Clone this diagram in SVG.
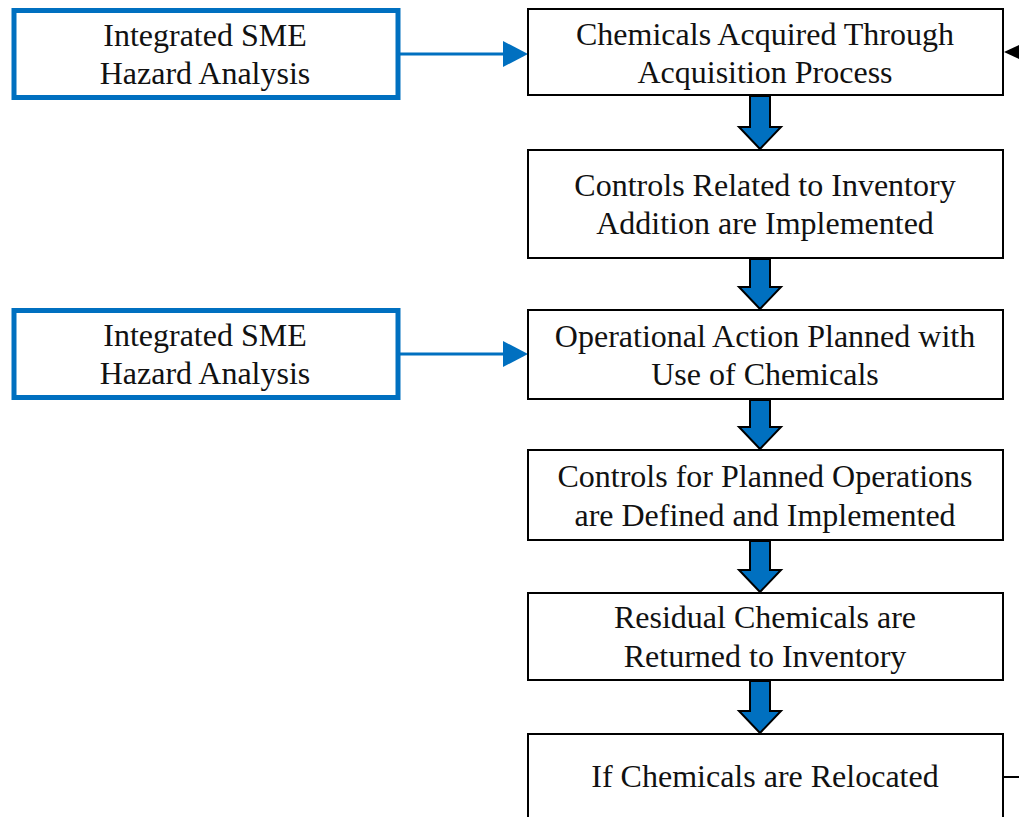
<svg xmlns="http://www.w3.org/2000/svg" width="1019" height="817" viewBox="0 0 1019 817">
<style>
.b{fill:#fff;stroke:#000;stroke-width:2}
.sme{fill:#fff;stroke:#0070C0;stroke-width:5}
.t{font-family:"Liberation Serif","Times New Roman",serif;font-size:32px;fill:#111;text-anchor:middle}
.blk{fill:#0070C0;stroke:#000;stroke-width:2;stroke-linejoin:miter}
.ln{stroke:#0070C0;stroke-width:3;fill:none}
</style>
<rect width="1019" height="817" fill="#fff"/>
<g id="connectors">
<line class="ln" x1="400" y1="54" x2="504" y2="54"/>
<path d="M503,41 L528,54 L503,67 z" fill="#0070C0"/>
<line class="ln" x1="400" y1="354" x2="504" y2="354"/>
<path d="M503,341 L528,354 L503,367 z" fill="#0070C0"/>
<path d="M1004,52 L1019,45 L1019,59 z" fill="#000"/>
<line x1="1010" y1="52" x2="1019" y2="52" stroke="#000" stroke-width="2"/>
<line x1="1003" y1="777" x2="1019" y2="777" stroke="#000" stroke-width="2"/>
<path class="blk" d="M750,96 L770,96 L770,127 L781,127 L760,149 L739,127 L750,127 z"/>
<path class="blk" d="M750,259 L770,259 L770,287 L781,287 L760,309 L739,287 L750,287 z"/>
<path class="blk" d="M750,400 L770,400 L770,427 L781,427 L760,449 L739,427 L750,427 z"/>
<path class="blk" d="M750,541 L770,541 L770,570 L781,570 L760,592 L739,570 L750,570 z"/>
<path class="blk" d="M750,681 L770,681 L770,711 L781,711 L760,733 L739,711 L750,711 z"/>
</g>
<g id="sme1">
<rect class="sme" x="14" y="10.5" width="384" height="87"/>
<text class="t" x="205" y="46">Integrated SME</text>
<text class="t" x="205" y="84">Hazard Analysis</text>
</g>
<g id="sme2">
<rect class="sme" x="14" y="310.5" width="384" height="87"/>
<text class="t" x="205" y="346">Integrated SME</text>
<text class="t" x="205" y="384">Hazard Analysis</text>
</g>
<g id="n1">
<rect class="b" x="528" y="9" width="475" height="86"/>
<text class="t" x="765" y="45">Chemicals Acquired Through</text>
<text class="t" x="765" y="83">Acquisition Process</text>
</g>
<g id="n2">
<rect class="b" x="528" y="150" width="475" height="108"/>
<text class="t" x="765" y="196">Controls Related to Inventory</text>
<text class="t" x="765" y="234">Addition are Implemented</text>
</g>
<g id="n3">
<rect class="b" x="528" y="310" width="475" height="89"/>
<text class="t" x="765" y="347">Operational Action Planned with</text>
<text class="t" x="765" y="385">Use of Chemicals</text>
</g>
<g id="n4">
<rect class="b" x="528" y="450" width="475" height="90"/>
<text class="t" x="765" y="487">Controls for Planned Operations</text>
<text class="t" x="765" y="526">are Defined and Implemented</text>
</g>
<g id="n5">
<rect class="b" x="528" y="593" width="475" height="87"/>
<text class="t" x="765" y="628">Residual Chemicals are</text>
<text class="t" x="765" y="667">Returned to Inventory</text>
</g>
<g id="n6">
<rect class="b" x="528" y="734" width="475" height="100"/>
<text class="t" x="765" y="787">If Chemicals are Relocated</text>
</g>
</svg>
